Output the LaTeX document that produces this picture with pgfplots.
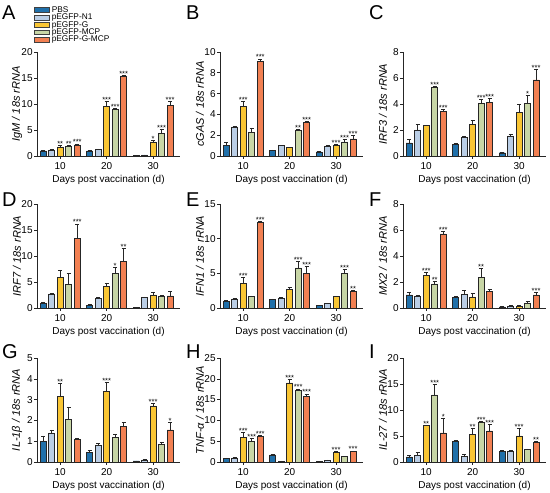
\documentclass[border=0pt]{standalone}
\usepackage{fontspec}
\setmainfont{Liberation Sans}
\setsansfont{Liberation Sans}
\usepackage{pgfplots}
\usepackage{pgfplotstable}
\pgfplotsset{compat=1.18}

\definecolor{cPBS}{RGB}{32,112,170}
\definecolor{cN1}{RGB}{186,206,230}
\definecolor{cG}{RGB}{250,198,52}
\definecolor{cMCP}{RGB}{200,214,166}
\definecolor{cGM}{RGB}{242,128,82}

% columns: x, then mean / error / significance (0 none,1 *,2 **,3 ***) for
% PBS, pEGFP-N1, pEGFP-G, pEGFP-MCP, pEGFP-G-MCP
\pgfplotstableread{
x y1 e1 s1 y2 e2 s2 y3 e3 s3 y4 e4 s4 y5 e5 s5
10 1.0 0.1 0 1.15 0.1 0 1.75 0.25 2 1.8 0.3 2 2.15 0.2 3
20 1.0 0.15 0 1.25 0.1 0 9.6 0.9 3 8.9 0.2 3 15.4 0.15 3
30 0.15 0.03 0 0.2 0.03 0 2.7 0.3 1 4.4 0.8 3 9.8 0.8 3
}\tA
\pgfplotstableread{
x y1 e1 s1 y2 e2 s2 y3 e3 s3 y4 e4 s4 y5 e5 s5
10 1.0 0.3 0 2.8 0.05 0 4.8 0.45 3 2.3 0.4 0 9.1 0.25 3
20 0.55 0.05 0 1.0 0.05 0 0.8 0.05 0 2.5 0.1 2 3.2 0.15 3
30 0.4 0.05 0 0.9 0.15 0 1.05 0.1 3 1.35 0.3 3 1.65 0.3 3
}\tB
\pgfplotstableread{
x y1 e1 s1 y2 e2 s2 y3 e3 s3 y4 e4 s4 y5 e5 s5
10 1.0 0.25 0 2.0 0.45 0 2.35 0.05 0 5.3 0.05 3 3.45 0.15 3
20 0.9 0.05 0 1.45 0.05 0 2.45 0.3 0 4.05 0.35 3 4.1 0.35 3
30 0.25 0.03 0 1.55 0.15 0 3.35 0.6 0 4.05 0.6 1 5.85 0.85 3
}\tC
\pgfplotstableread{
x y1 e1 s1 y2 e2 s2 y3 e3 s3 y4 e4 s4 y5 e5 s5
10 0.9 0.3 0 2.7 0.05 0 5.9 1.3 0 4.6 2.0 0 13.4 2.8 3
20 0.55 0.15 0 1.9 0.1 0 4.1 0.7 0 6.7 1.2 1 8.9 2.5 2
30 0.1 0.02 0 2.05 0.1 0 2.5 0.5 0 2.2 0.2 0 2.35 0.8 0
}\tD
\pgfplotstableread{
x y1 e1 s1 y2 e2 s2 y3 e3 s3 y4 e4 s4 y5 e5 s5
10 0.95 0.1 0 1.3 0.05 0 3.6 0.8 3 1.7 0.05 0 12.3 0.25 3
20 1.2 0.1 0 1.45 0.05 0 2.65 0.35 0 5.8 0.9 3 4.95 1.0 3
30 0.35 0.05 0 0.7 0.03 0 1.7 0.05 0 4.95 0.6 3 2.45 0.15 2
}\tE
\pgfplotstableread{
x y1 e1 s1 y2 e2 s2 y3 e3 s3 y4 e4 s4 y5 e5 s5
10 1.0 0.2 0 0.9 0.05 0 2.5 0.25 3 1.85 0.2 2 5.7 0.2 3
20 0.8 0.1 0 1.05 0.3 0 0.85 0.25 0 2.35 0.7 2 1.3 0.15 0
30 0.08 0.02 0 0.15 0.03 0 0.15 0.05 0 0.4 0.15 0 1.0 0.2 3
}\tF
\pgfplotstableread{
x y1 e1 s1 y2 e2 s2 y3 e3 s3 y4 e4 s4 y5 e5 s5
10 1.0 0.25 0 1.4 0.15 0 3.15 0.65 2 2.05 0.6 0 1.1 0.02 0
20 0.45 0.12 0 0.8 0.08 0 3.4 0.45 3 1.2 0.12 0 1.7 0.2 0
30 0.05 0.01 0 0.1 0.02 0 2.7 0.12 3 0.85 0.12 0 1.55 0.35 1
}\tG
\pgfplotstableread{
x y1 e1 s1 y2 e2 s2 y3 e3 s3 y4 e4 s4 y5 e5 s5
10 0.9 0.1 0 1.0 0.1 0 6.0 1.2 3 5.0 0.6 3 6.2 0.3 3
20 1.7 0.1 0 0.2 0.05 0 19.0 0.9 3 17.2 0.4 3 15.8 0.6 3
30 0.15 0.03 0 0.45 0.05 0 2.4 0.2 3 1.3 0.1 0 2.5 0.2 3
}\tH
\pgfplotstableread{
x y1 e1 s1 y2 e2 s2 y3 e3 s3 y4 e4 s4 y5 e5 s5
10 1.0 0.3 0 1.3 0.6 0 7.0 0.15 2 12.9 2.0 3 5.6 2.8 1
20 3.9 0.2 0 1.1 0.3 0 5.3 1.2 2 7.7 0.2 3 6.0 1.3 3
30 2.1 0.1 0 2.1 0.15 0 5.0 1.5 3 2.4 0.1 0 3.8 0.15 2
}\tI

\newcommand{\stars}[1]{\ifcase#1\or*\or**\or***\fi}

\pgfplotsset{
  panel/.style={
    width=143pt, height=104pt, scale only axis,
    ybar, bar width=6pt,
    xmin=5, xmax=35.8, ymin=0,
    axis x line*=bottom, axis y line*=left,
    xtick={10,20,30},
    tick align=outside, major tick length=3pt,
    tick style={black!85, line width=0.6pt},
    axis line style={black!85, line width=0.7pt},
    /pgf/number format/assume math mode=true,
    xticklabel style={font=\fontsize{10}{10}\selectfont},
    yticklabel style={font=\fontsize{10}{10}\selectfont, inner sep=1.2pt},
    xlabel={Days post vaccination (d)},
    every axis x label/.style={at={(axis description cs:0.5,0)}, anchor=center, yshift=-24pt, font=\fontsize{10}{12}\selectfont},
    every axis y label/.style={at={(axis description cs:-0.14,0.5)}, rotate=90, anchor=center, font=\fontsize{11}{12}\selectfont\itshape},
    clip=false,
  },
  barstyle/.style={draw=black!85, line width=0.45pt,
    error bars/y dir=plus, error bars/y explicit,
    error bars/error bar style={black!85, line width=0.5pt},
    error bars/error mark options={rotate=90, black!85, mark size=2pt, line width=0.5pt}},
  starstyle/.style={draw=none, fill=none, forget plot,
    point meta=explicit symbolic,
    nodes near coords={\stars{\pgfplotspointmeta}},
    every node near coord/.append style={anchor=south, inner sep=0.4pt, yshift=-1.8pt, font=\fontsize{7.5}{7.5}\selectfont}},
}

\newcommand{\drawbars}[1]{%
  \addplot[barstyle, fill=cPBS, bar shift=-17pt] table[x=x, y=y1, y error=e1]{#1};
  \addplot[barstyle, fill=cN1,  bar shift=-8.5pt] table[x=x, y=y2, y error=e2]{#1};
  \addplot[barstyle, fill=cG,   bar shift=0pt] table[x=x, y=y3, y error=e3]{#1};
  \addplot[barstyle, fill=cMCP, bar shift=8.5pt] table[x=x, y=y4, y error=e4]{#1};
  \addplot[barstyle, fill=cGM,  bar shift=17pt] table[x=x, y=y5, y error=e5]{#1};
  \addplot[starstyle, bar shift=-17pt] table[x=x, y expr=\thisrow{y1}+\thisrow{e1}, meta=s1]{#1};
  \addplot[starstyle, bar shift=-8.5pt] table[x=x, y expr=\thisrow{y2}+\thisrow{e2}, meta=s2]{#1};
  \addplot[starstyle, bar shift=0pt] table[x=x, y expr=\thisrow{y3}+\thisrow{e3}, meta=s3]{#1};
  \addplot[starstyle, bar shift=8.5pt] table[x=x, y expr=\thisrow{y4}+\thisrow{e4}, meta=s4]{#1};
  \addplot[starstyle, bar shift=17pt] table[x=x, y expr=\thisrow{y5}+\thisrow{e5}, meta=s5]{#1};
}

\begin{document}
\begin{tikzpicture}
\useasboundingbox (0,0) rectangle (550pt,493pt);

% Row 1
\begin{axis}[panel, at={(37pt,337pt)}, anchor=south west,
  ymax=20, ytick={0,5,10,15,20}, ylabel={IgM / 18s rRNA},
  legend style={at={(axis description cs:0,1)}, anchor=north west, xshift=-3pt, yshift=46pt,
    draw=none, fill=none, font=\fontsize{8.3}{8.3}\selectfont, row sep=0pt, inner sep=0pt, column sep=2pt,
    nodes={inner sep=0.3pt, text height=5.9pt, text depth=0.9pt}},
  legend cell align=left,
  legend image code/.code={\draw[#1, draw=black!75, line width=0.3pt] (0pt,-2.4pt) rectangle (15pt,2.4pt);},
]
\drawbars{\tA}
\legend{PBS, pEGFP-N1, pEGFP-G, pEGFP-MCP, pEGFP-G-MCP}
\end{axis}

\begin{axis}[panel, at={(220pt,337pt)}, anchor=south west,
  ymax=10, ytick={0,2,4,6,8,10}, ylabel={cGAS / 18s rRNA}]
\drawbars{\tB}
\end{axis}

\begin{axis}[panel, at={(403pt,337pt)}, anchor=south west,
  ymax=8, ytick={0,2,4,6,8}, ylabel={IRF3 / 18s rRNA}]
\drawbars{\tC}
\end{axis}

% Row 2
\begin{axis}[panel, at={(37pt,185pt)}, anchor=south west,
  ymax=20, ytick={0,5,10,15,20}, ylabel={IRF7 / 18s rRNA}]
\drawbars{\tD}
\end{axis}

\begin{axis}[panel, at={(220pt,185pt)}, anchor=south west,
  ymax=15, ytick={0,5,10,15}, ylabel={IFN1 / 18s rRNA}]
\drawbars{\tE}
\end{axis}

\begin{axis}[panel, at={(403pt,185pt)}, anchor=south west,
  ymax=8, ytick={0,2,4,6,8}, ylabel={MX2 / 18s rRNA}]
\drawbars{\tF}
\end{axis}

% Row 3
\begin{axis}[panel, at={(37pt,31pt)}, anchor=south west,
  ymax=5, ytick={0,1,2,3,4,5}, ylabel={IL-1β / 18s rRNA}]
\drawbars{\tG}
\end{axis}

\begin{axis}[panel, at={(220pt,31pt)}, anchor=south west,
  ymax=25, ytick={0,5,10,15,20,25}, ylabel={TNF-α / 18s rRNA}]
\drawbars{\tH}
\end{axis}

\begin{axis}[panel, at={(403pt,31pt)}, anchor=south west,
  ymax=20, ytick={0,5,10,15,20}, ylabel={IL-27 / 18s rRNA}]
\drawbars{\tI}
\end{axis}

% Panel letters
\begin{scope}[every node/.style={anchor=west, inner sep=0pt, font=\fontsize{20}{20}\selectfont}]
\node at (2pt,480pt) {A};
\node at (186pt,480pt) {B};
\node at (369pt,480pt) {C};
\node at (2pt,293pt) {D};
\node at (186pt,293pt) {E};
\node at (369pt,293pt) {F};
\node at (2pt,141pt) {G};
\node at (186pt,141pt) {H};
\node at (369pt,141pt) {I};
\end{scope}
\end{tikzpicture}
\end{document}
